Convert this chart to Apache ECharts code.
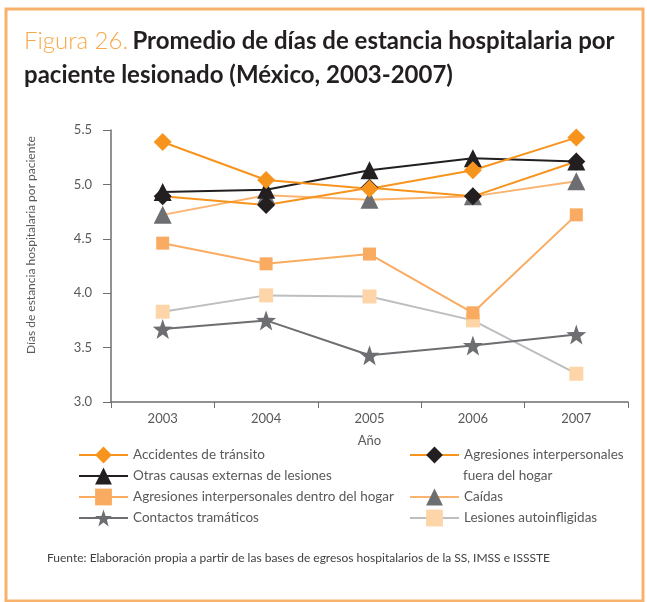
<!DOCTYPE html>
<html>
<head>
<meta charset="utf-8">
<script src="https://cdn.jsdelivr.net/npm/echarts@6/dist/echarts.min.js"></script>
<style>
  html, body { margin: 0; padding: 0; background: #fff; }
  #chart { width: 647px; height: 602px; }
</style>
</head>
<body>
<div id="chart"></div>
<script>
// years on the x axis
const years = ["2003", "2004", "2005", "2006", "2007"];

// average days of stay per injured patient
const accidentes = [5.39, 5.04, 4.96, 5.13, 5.43];
const agresionesFuera = [4.89, 4.81, 4.97, 4.89, 5.21];
const otrasCausas = [4.93, 4.95, 5.13, 5.24, 5.21];
const agresionesDentro = [4.46, 4.27, 4.36, 3.82, 4.72];
const caidas = [4.72, 4.90, 4.86, 4.89, 5.03];
const contactos = [3.67, 3.75, 3.43, 3.52, 3.62];
const lesiones = [3.83, 3.98, 3.97, 3.75, 3.26];

const FONT = "Lato";
const TXT = "#58595b";
const STAR = "path://M0,-10L2.35,-3.24L9.51,-3.09L3.8,1.24L5.88,8.09L0,4L-5.88,8.09L-3.8,1.24L-9.51,-3.09L-2.35,-3.24Z";

function line(name, data, lineColor, symbol, symbolColor, symbolSize) {
  return {
    name: name,
    type: "line",
    data: data,
    symbol: symbol,
    symbolSize: symbolSize,
    lineStyle: { color: lineColor, width: 2 },
    itemStyle: { color: symbolColor },
    emphasis: { disabled: true },
    z: 2
  };
}

// shared legend look, rows 21px apart
function legendBox(left, top, names, formatter) {
  const l = {
    orient: "vertical",
    left: left,
    top: top,
    padding: 0,
    itemWidth: 49,
    itemHeight: 21,
    itemGap: 0,
    textStyle: { color: TXT, fontSize: 13.5, fontFamily: FONT, lineHeight: 21 },
    data: names
  };
  if (formatter) l.formatter = formatter;
  return l;
}

const chart = echarts.init(document.getElementById("chart"));

chart.setOption({
  backgroundColor: "#fff",
  animation: false,
  textStyle: { fontFamily: FONT },
  title: {
    left: 19,
    top: 19,
    text: "{a|Figura 26.} {b|Promedio de días de estancia hospitalaria por}\n{b|paciente lesionado (México, 2003-2007)}",
    textStyle: {
      rich: {
        a: { fontFamily: FONT, fontSize: 24, fontWeight: 300, color: "#f7a84a", lineHeight: 34 },
        b: { fontFamily: FONT, fontSize: 24, fontWeight: "bold", color: "#231f20", lineHeight: 34 }
      }
    }
  },
  grid: { left: 111, right: 19, top: 130, bottom: 200 },
  xAxis: {
    type: "category",
    data: years,
    boundaryGap: true,
    name: "Año",
    nameLocation: "middle",
    nameGap: 32,
    nameTextStyle: { color: TXT, fontSize: 13, fontFamily: FONT },
    axisLine: { lineStyle: { color: "#6d6e71", width: 1.5 } },
    axisTick: { show: true, length: 6, lineStyle: { color: "#6d6e71" } },
    axisLabel: { color: TXT, fontSize: 13, margin: 10, fontFamily: FONT }
  },
  yAxis: {
    type: "value",
    min: 3,
    max: 5.5,
    interval: 0.5,
    axisLine: { show: true, lineStyle: { color: "#6d6e71", width: 1.5 } },
    axisTick: { show: true, length: 8, lineStyle: { color: "#6d6e71" } },
    splitLine: { show: false },
    axisLabel: {
      color: TXT, fontSize: 13, margin: 19, fontFamily: FONT,
      formatter: function (v) { return v.toFixed(1); }
    }
  },
  legend: [
    legendBox(78, 444.5, ["Accidentes de tránsito", "Otras causas externas de lesiones",
                          "Agresiones interpersonales dentro del hogar", "Contactos tramáticos"]),
    legendBox(409, 444.5, ["Agresiones interpersonales fuera del hogar"],
              function () { return "Agresiones interpersonales"; }),
    legendBox(409, 486.5, ["Caídas", "Lesiones autoinfligidas"])
  ],
  graphic: [
    {
      type: "rect",
      shape: { x: 6, y: 9, width: 637, height: 592 },
      style: { fill: "none", stroke: "#f9b26b", lineWidth: 3 },
      silent: true
    },
    {
      type: "text",
      x: 31,
      y: 245,
      rotation: Math.PI / 2,
      style: {
        text: "Días de estancia hospitalaria por paciente",
        fill: TXT, fontSize: 12, fontFamily: FONT,
        align: "center", verticalAlign: "middle"
      }
    },
    {
      type: "text",
      x: 463,
      y: 476,
      style: {
        text: "fuera del hogar",
        fill: TXT, fontSize: 13.5, fontFamily: FONT,
        align: "left", verticalAlign: "middle"
      }
    },
    {
      type: "text",
      x: 47,
      y: 558,
      style: {
        text: "Fuente: Elaboración propia a partir de las bases de egresos hospitalarios de la SS, IMSS e ISSSTE",
        fill: "#414042", fontSize: 12, fontFamily: FONT,
        align: "left", verticalAlign: "middle"
      }
    }
  ],
  series: [
    line("Lesiones autoinfligidas", lesiones, "#bcbec0", "rect", "#fdd5a8", 14),
    line("Contactos tramáticos", contactos, "#6d6e71", STAR, "#6d6e71", 20),
    line("Agresiones interpersonales dentro del hogar", agresionesDentro, "#f9ac61", "rect", "#f9ac61", 13),
    line("Caídas", caidas, "#fbb470", "triangle", "#6d6e71", 18),
    line("Otras causas externas de lesiones", otrasCausas, "#231f20", "triangle", "#231f20", 18),
    line("Agresiones interpersonales fuera del hogar", agresionesFuera, "#f7941d", "diamond", "#231f20", 18),
    line("Accidentes de tránsito", accidentes, "#f7941d", "diamond", "#f7941d", 18)
  ]
});
</script>
</body>
</html>
